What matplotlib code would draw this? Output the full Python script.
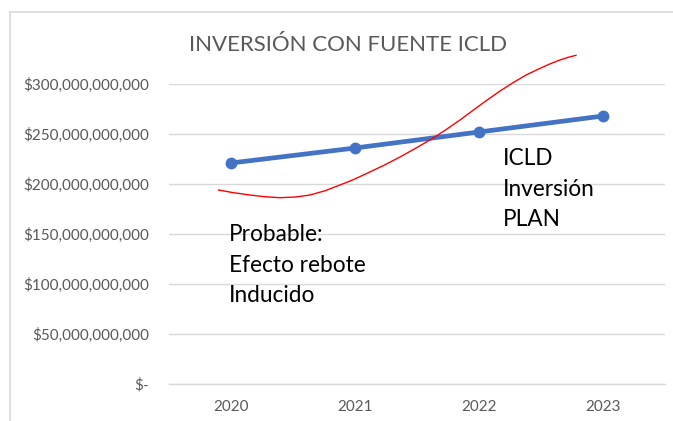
import matplotlib
matplotlib.use("Agg")
import matplotlib.pyplot as plt
from matplotlib.lines import Line2D
from matplotlib.ticker import FuncFormatter

# ---- data ----
years = ["2020", "2021", "2022", "2023"]
icld_plan = [221e9, 236e9, 252e9, 268e9]

# hand-drawn "probable rebound" curve (position in category units, value)
rebote_x = [-0.10, 0.02, 0.153, 0.27, 0.395, 0.52, 0.637, 0.76, 0.879, 0.99, 1.094, 1.23,
            1.363, 1.49, 1.618, 1.73, 1.847, 1.95, 2.06, 2.17, 2.277, 2.38, 2.49, 2.57,
            2.653, 2.72, 2.782]
rebote_y = [194e9, 191.3e9, 189e9, 187.3e9, 186.3e9, 187e9, 189e9, 193.3e9, 199e9, 204.5e9,
            210.5e9, 218.5e9, 227e9, 235.8e9, 245e9, 254e9, 264e9, 273.5e9, 283.5e9, 293e9,
            301.5e9, 309e9, 315.5e9, 320e9, 324e9, 326.7e9, 328.7e9]

yticks = [0, 50e9, 100e9, 150e9, 200e9, 250e9, 300e9]

title = "INVERSIÓN CON FUENTE ICLD"
label_plan = "ICLD\nInversión\nPLAN"
label_rebote = "Probable:\nEfecto rebote\nInducido"

plt.rcParams['font.family'] = ['Lato', 'DejaVu Sans']
grey = "#595959"
gridc = "#D9D9D9"

fig = plt.figure(figsize=(6.73, 4.21), dpi=100)
ax = fig.add_axes([169/673, 37/421, 496/673, 300/421])

xs = list(range(len(years)))
ax.plot(xs, icld_plan, color="#4472C4", lw=3.4, marker="o", ms=7.5,
        solid_capstyle="round", zorder=3)
ax.plot(rebote_x, rebote_y, color="#FF0000", lw=1.0, clip_on=False, zorder=4)

ax.set_xlim(-0.5, len(years) - 0.5)
ax.set_ylim(0, 300e9)
ax.set_xticks(xs)
ax.set_xticklabels(years)
ax.set_yticks(yticks)

def fmt(v, pos):
    if v == 0:
        return "$-"
    return "${:,.0f}".format(v)

ax.yaxis.set_major_formatter(FuncFormatter(fmt))
ax.tick_params(axis="both", length=0, labelsize=11, labelcolor=grey)
ax.tick_params(axis="y", pad=14.5)
ax.tick_params(axis="x", pad=11.5)
ax.grid(axis="y", color=gridc, lw=1.0)
ax.set_axisbelow(True)
for s in ["top", "right", "left"]:
    ax.spines[s].set_visible(False)
ax.spines["bottom"].set_color(gridc)
ax.spines["bottom"].set_linewidth(1.0)

fig.text(348/673, 1 - 45/421, title, ha="center", va="center",
         fontsize=16, color=grey, fontweight="normal")

ax.text(2.194, 236e9, label_plan, ha="left", va="top", fontsize=16.3,
        color="black", linespacing=1.56)
ax.text(-0.016, 160e9, label_rebote, ha="left", va="top", fontsize=16.3,
        color="black", linespacing=1.56)

# chart-area border (left and top)
fig.add_artist(Line2D([10/673, 10/673], [0, 1 - 12/421], transform=fig.transFigure,
                      color=gridc, lw=1.2))
fig.add_artist(Line2D([10/673, 1], [1 - 12/421, 1 - 12/421], transform=fig.transFigure,
                      color=gridc, lw=1.2))

fig.savefig("out.png", dpi=100)
